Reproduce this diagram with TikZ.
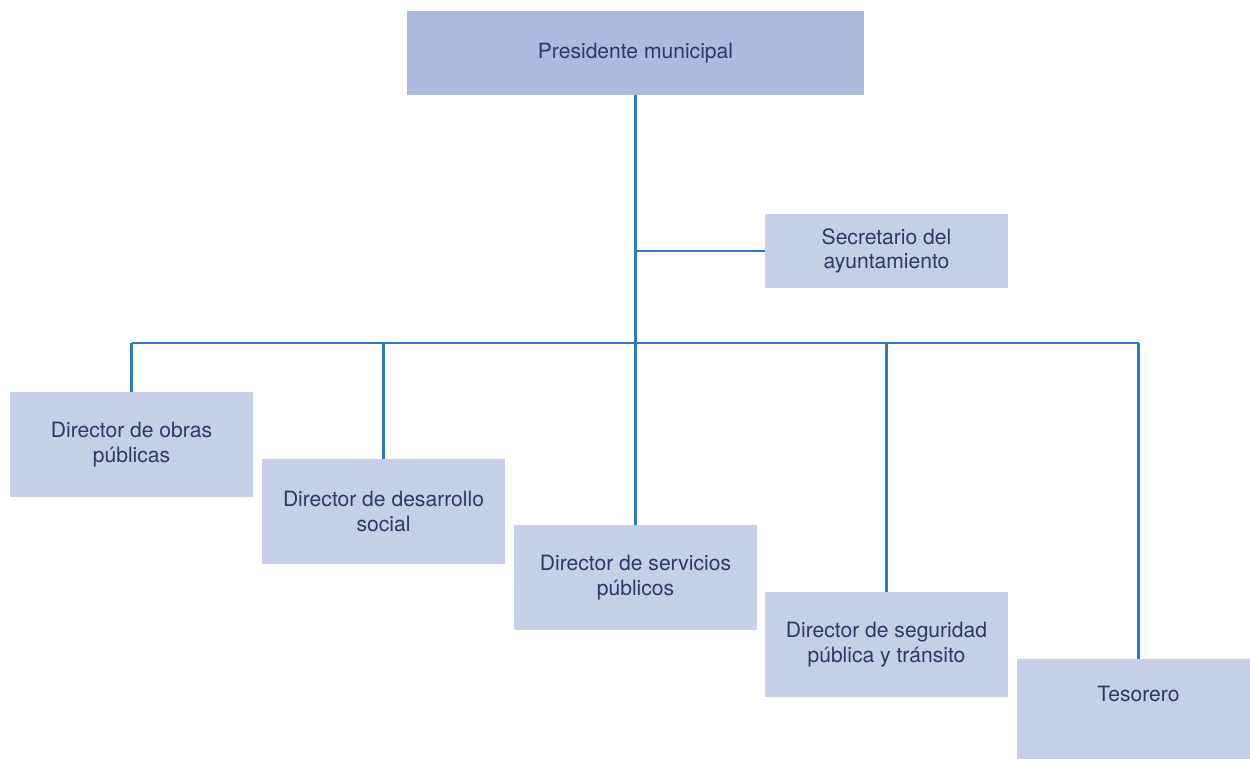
\documentclass[tikz,border=0pt]{standalone}
\usepackage{fontspec}
\setmainfont{TeX Gyre Heros}
\usepackage{tikz}
\usetikzlibrary{positioning}
\definecolor{cajatop}{HTML}{ABBADD}
\definecolor{caja}{HTML}{C5CFE7}
\definecolor{linea}{HTML}{2E7AC2}
\definecolor{letra}{HTML}{2A3B66}

\begin{document}
\begin{tikzpicture}[
x=0.02cm,y=-0.02cm,
font=\fontsize{12pt}{14pt}\selectfont,
cargo/.style={fill=caja,text=letra,align=center,inner sep=0pt,minimum width=4.86cm,minimum height=2.1cm},
jefe/.style={cargo,fill=cajatop,minimum width=9.16cm,minimum height=1.68cm},
conector/.style={draw=linea,line width=1.3pt}]
    \clip (0,0) rectangle (1250,759);
    \useasboundingbox (0,0) rectangle (1250,759);

    % Cajas
    \node[jefe] (pres) at (635.5,53) {Presidente municipal};
    \node[cargo,minimum height=1.48cm] (secr) at (886.5,251) {Secretario del\\ayuntamiento};
    \node[cargo] (obras) at (131.5,444.5) {Director de obras\\públicas};
    \node[cargo] (desa) at (383.5,511.5) {Director de desarrollo\\social};
    \node[cargo] (serv) at (635.5,577.5) {Director de servicios\\públicos};
    \node[cargo] (segu) at (886.5,644.5) {Director de seguridad\\pública y tránsito};
    \node[cargo,text depth=20pt] (teso) at (1138.5,711.5) {Tesorero};

    \coordinate (bus) at (635.5,343);

    % Lineas
    \draw[conector] (pres.south) -- (serv.north);
    \draw[conector] (secr.west) -- (secr.west -| pres.south);
    \draw[conector] (obras.north |- bus) -- (teso.north |- bus);
    \draw[conector] (obras.north) -- (obras.north |- bus);
    \draw[conector] (desa.north) -- (desa.north |- bus);
    \draw[conector] (segu.north) -- (segu.north |- bus);
    \draw[conector] (teso.north) -- (teso.north |- bus);

\end{tikzpicture}
\end{document}
